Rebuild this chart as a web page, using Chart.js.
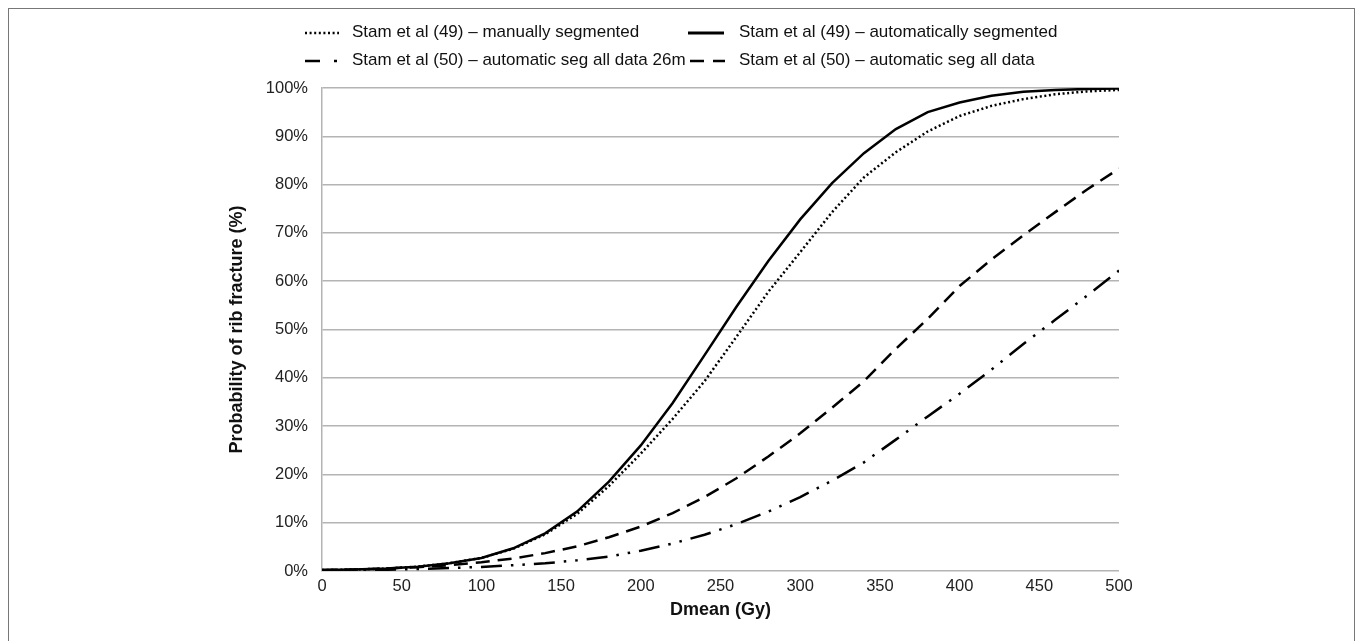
<!DOCTYPE html>
<html><head><meta charset="utf-8">
<script src="https://cdn.jsdelivr.net/npm/chart.js@4"></script>
<style>
html,body{margin:0;padding:0;background:#fff;}
#wrap{position:relative;width:1359px;height:641px;overflow:hidden;background:#fff;}
#frame{position:absolute;left:8px;top:8px;width:1345px;height:640px;border:1px solid #777;border-bottom:none;}
canvas{position:absolute;left:0;top:0;}
.lg{position:absolute;font:17px "Liberation Sans",Arial,sans-serif;color:#111;white-space:nowrap;line-height:20px;}
.sw{position:absolute;}
</style></head><body>
<div id="wrap">
<div id="frame"></div>
<canvas id="c" width="1359" height="641"></canvas>
<div id="legend"></div>
</div>
<script>
// ---- data ----
const doseGy = [0,20,40,60,80,100,120,140,160,180,200,220,240,260,280,300,320,340,360,380,400,420,440,460,480,500];
const manualSeg49 = [0.2,0.3,0.5,0.9,1.6,2.7,4.6,7.6,11.8,17.6,24.3,31.5,39.3,48.5,57.8,66.0,74.3,81.5,86.7,91.0,94.2,96.3,97.7,98.7,99.3,99.6];
const autoSeg49   = [0.2,0.3,0.5,0.9,1.6,2.7,4.7,7.8,12.3,18.5,26.0,34.8,44.7,54.7,64.2,72.8,80.3,86.5,91.5,95.0,97.0,98.4,99.2,99.6,99.8,99.9];
const autoAll26m50 = [0.1,0.15,0.25,0.4,0.6,0.85,1.2,1.6,2.2,3.0,4.2,5.7,7.5,9.7,12.3,15.3,18.7,22.5,27.2,32.0,36.7,41.7,47.0,52.0,57.0,62.2];
const autoAll50   = [0.2,0.3,0.5,0.8,1.2,1.8,2.6,3.7,5.1,7.0,9.2,12.0,15.3,19.2,23.7,28.5,33.8,39.3,46.0,52.2,59.0,64.5,69.5,74.3,79.0,83.3];
const seriesLabels = [
  'Stam et al (49) \u2013 manually segmented',
  'Stam et al (49) \u2013 automatically segmented',
  'Stam et al (50) \u2013 automatic seg all data 26m',
  'Stam et al (50) \u2013 automatic seg all data'
];
const xTickLabels = ['0','50','100','150','200','250','300','350','400','450','500'];
const yTickLabels = ['0%','10%','20%','30%','40%','50%','60%','70%','80%','90%','100%'];
const xTitle = 'Dmean (Gy)';
const yTitle = 'Probability of rib fracture (%)';

// ---- styles ----
const dashes = [[2,2.6],[],[21,9,2.5,9,2.5,9],[14,8]];
const values = [manualSeg49, autoSeg49, autoAll26m50, autoAll50];
const pts = arr => doseGy.map((d,i)=>({x:d,y:arr[i]}));
const FONT = '"Liberation Sans", Arial, sans-serif';

const datasets = values.map((v,i)=>({
  label: seriesLabels[i],
  data: pts(v),
  borderColor:'#000',
  borderWidth: 2.5,
  borderDash: dashes[i],
  pointRadius:0,
  tension:0,
  fill:false
}));

new Chart(document.getElementById('c').getContext('2d'), {
  type:'line',
  data:{datasets},
  options:{
    responsive:false, animation:false, devicePixelRatio:1,
    layout:{padding:{left:226,right:240,top:88,bottom:20}},
    plugins:{legend:{display:false},tooltip:{enabled:false}},
    scales:{
      x:{type:'linear',min:0,max:500,
        ticks:{stepSize:50,autoSkip:false,maxRotation:0,padding:6,color:'#222',font:{family:FONT,size:16.5},
          callback:(v,i)=>xTickLabels[i]},
        grid:{display:false,drawTicks:false},
        border:{display:false},
        title:{display:true,text:xTitle,color:'#111',font:{family:FONT,size:18,weight:'bold'},padding:0},
        afterFit(s){s.height=50;}
      },
      y:{min:0,max:100,
        ticks:{stepSize:10,autoSkip:false,padding:14,color:'#222',font:{family:FONT,size:16.5},
          callback:(v,i)=>yTickLabels[i]},
        grid:{color:'#b4b4b4',lineWidth:1.5,drawTicks:false},
        border:{display:true,color:'#b4b4b4',width:1.5},
        title:{display:true,text:yTitle,color:'#111',font:{family:FONT,size:18,weight:'bold'},padding:0},
        afterFit(s){s.width=96;}
      }
    }
  }
});

// ---- legend (HTML text + small line samples) ----
const legendPos = [
  {sx:305, sw:34, tx:352, y:33},
  {sx:688, sw:36, tx:739, y:33},
  {sx:305, sw:34, tx:352, y:61},
  {sx:690, sw:35, tx:739, y:61}
];
const sampleDash = ['2 2.6','', '15 14 3 100', '14 9 12 100'];
const lg = document.getElementById('legend');
legendPos.forEach((p,i)=>{
  const svg = document.createElementNS('http://www.w3.org/2000/svg','svg');
  svg.setAttribute('width',p.sw); svg.setAttribute('height',6);
  svg.setAttribute('class','sw');
  svg.style.left=p.sx+'px'; svg.style.top=(p.y-3)+'px';
  const ln = document.createElementNS('http://www.w3.org/2000/svg','line');
  ln.setAttribute('x1',0);ln.setAttribute('x2',p.sw);ln.setAttribute('y1',3);ln.setAttribute('y2',3);
  ln.setAttribute('stroke','#000');ln.setAttribute('stroke-width',i===1?3:2.5);
  if(sampleDash[i]) ln.setAttribute('stroke-dasharray',sampleDash[i]);
  svg.appendChild(ln); lg.appendChild(svg);
  const t = document.createElement('div');
  t.className='lg'; t.textContent=seriesLabels[i];
  t.style.left=p.tx+'px'; t.style.top=(p.y-11)+'px';
  lg.appendChild(t);
});
</script>
</body></html>
